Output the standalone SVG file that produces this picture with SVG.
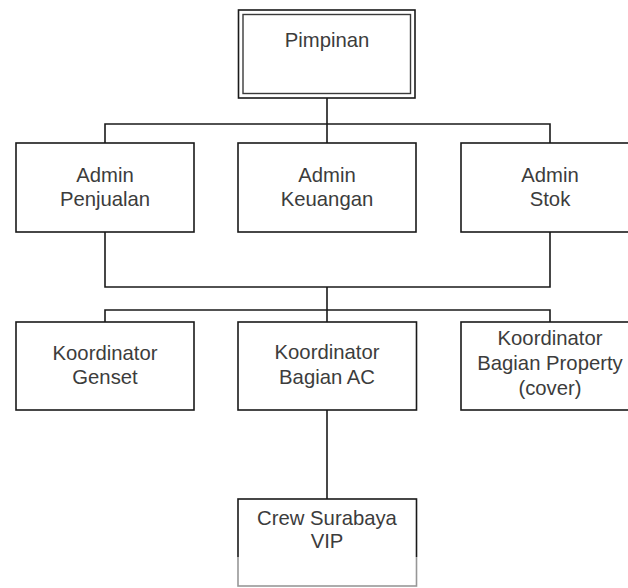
<svg xmlns="http://www.w3.org/2000/svg" width="628" height="588" viewBox="0 0 628 588">
  <style>
    .box { fill: #ffffff; stroke: #1a1a1a; stroke-width: 1.6; }
    .inner { fill: none; stroke: #3a3a3a; stroke-width: 1.4; }
    .wire { fill: none; stroke: #1a1a1a; stroke-width: 1.6; }
    .lbl { font-family: "Liberation Sans", Arial, sans-serif; font-size: 20.3px; fill: #3c3c3c; text-anchor: middle; }
  </style>
  <rect width="628" height="588" fill="#ffffff"/>

  <!-- connectors -->
  <g id="connectors">
    <!-- Pimpinan to admin row -->
    <path class="wire" d="M327 98 V124 M105 143 V124 H550 V143 M327 124 V143"/>
    <!-- admin row to koordinator row -->
    <path class="wire" d="M105 232 V287 H550 V232 M327 287 V322 M105 322 V310 H550 V322"/>
    <!-- Koordinator Bagian AC to crew -->
    <path class="wire" d="M327 410 V499"/>
  </g>

  <g id="pimpinan">
    <rect class="box" x="238.5" y="10" width="176.5" height="88"/>
    <rect class="inner" x="243" y="14.5" width="167.5" height="79"/>
    <text class="lbl" x="327" y="47">Pimpinan</text>
  </g>

  <g id="admin-penjualan">
    <rect class="box" x="16" y="143" width="178" height="89"/>
    <text class="lbl" x="105" y="182">Admin</text>
    <text class="lbl" x="105" y="206">Penjualan</text>
  </g>

  <g id="admin-keuangan">
    <rect class="box" x="238" y="143" width="178" height="89"/>
    <text class="lbl" x="327" y="182">Admin</text>
    <text class="lbl" x="327" y="206">Keuangan</text>
  </g>

  <g id="admin-stok">
    <rect class="box" x="461" y="143" width="178" height="89"/>
    <text class="lbl" x="550" y="182">Admin</text>
    <text class="lbl" x="550" y="206">Stok</text>
  </g>

  <g id="koordinator-genset">
    <rect class="box" x="16" y="322" width="178" height="88"/>
    <text class="lbl" x="105" y="360">Koordinator</text>
    <text class="lbl" x="105" y="384">Genset</text>
  </g>

  <g id="koordinator-ac">
    <rect class="box" x="238" y="322" width="178.5" height="88"/>
    <text class="lbl" x="327" y="359">Koordinator</text>
    <text class="lbl" x="327" y="384">Bagian AC</text>
  </g>

  <g id="koordinator-property">
    <rect class="box" x="461" y="322" width="178" height="88"/>
    <text class="lbl" x="550" y="345">Koordinator</text>
    <text class="lbl" x="550" y="370">Bagian Property</text>
    <text class="lbl" x="550" y="395">(cover)</text>
  </g>

  <g id="crew-surabaya">
    <rect class="box" x="238" y="499" width="178.5" height="87"/>
    <text class="lbl" x="327" y="525">Crew Surabaya</text>
    <text class="lbl" x="327" y="548">VIP</text>
    <!-- faded lower edge -->
    <rect x="230" y="557" width="195" height="31" fill="#ffffff" opacity="0.55"/>
  </g>
</svg>
